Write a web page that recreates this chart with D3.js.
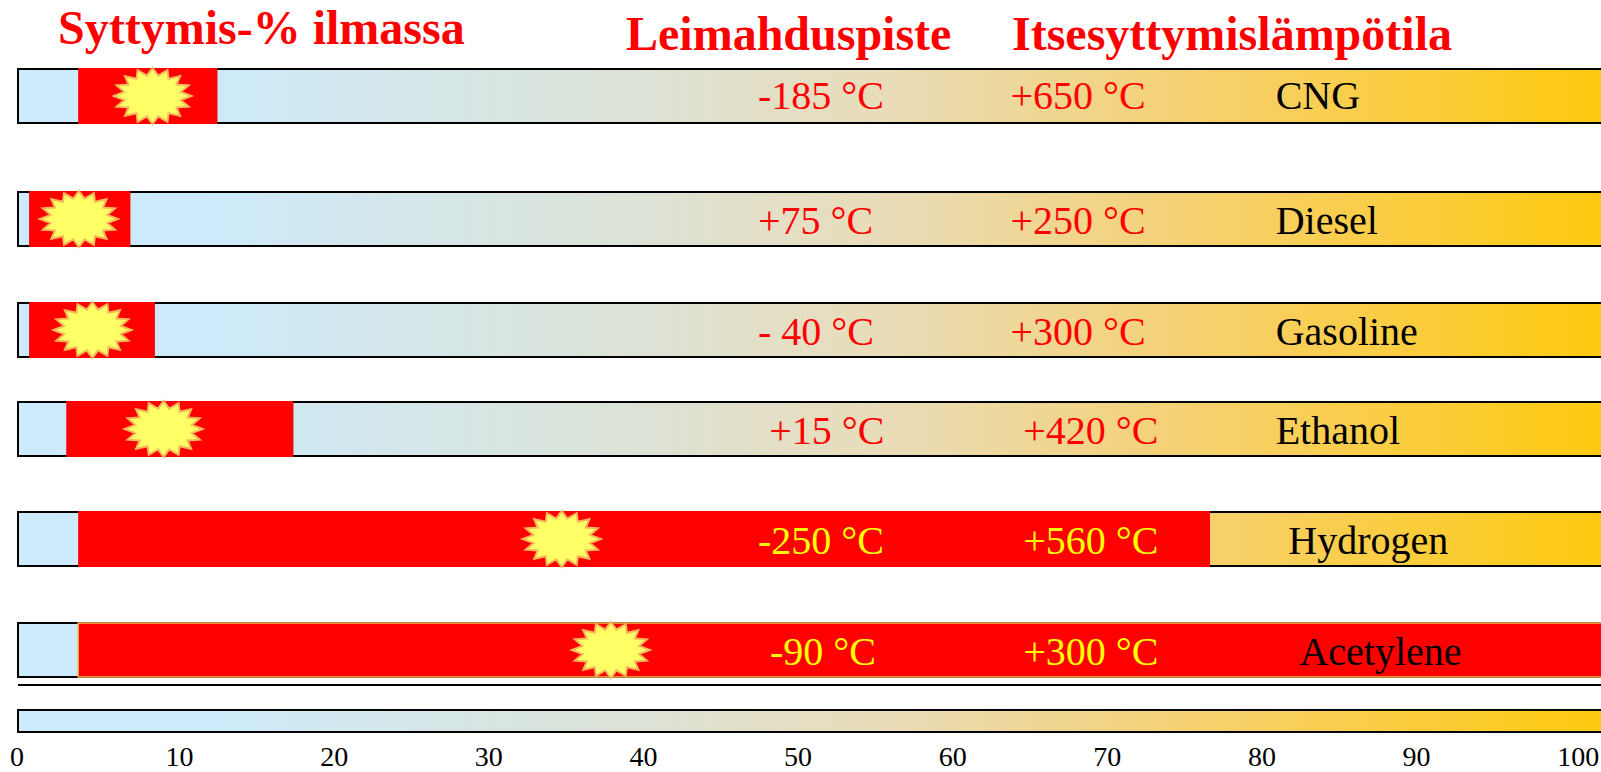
<!DOCTYPE html>
<html>
<head>
<meta charset="utf-8">
<script src="https://cdn.jsdelivr.net/npm/d3@7"></script>
<style>
  html, body { margin: 0; padding: 0; background: #fff; overflow: hidden; }
  text { font-family: "Liberation Serif", serif; }
</style>
</head>
<body>
<div id="chart-area"></div>
<script>
// Data
var fuels = ["CNG", "Diesel", "Gasoline", "Ethanol", "Hydrogen", "Acetylene"];
var rangeLow = [3.8, 0.7, 0.7, 3.05, 3.8, 3.8];
var rangeHigh = [12.6, 7.1, 8.65, 17.4, 75.3, 101];
var burstAt = [8.5, 3.85, 4.7, 9.2, 34.35, 37.45];
var flashPoint = ["-185 °C", "+75 °C", "- 40 °C", "+15 °C", "-250 °C", "-90 °C"];
var autoIgnition = ["+650 °C", "+250 °C", "+300 °C", "+420 °C", "+560 °C", "+300 °C"];
var axisTicks = [0, 10, 20, 30, 40, 50, 60, 70, 80, 90, 100];

// Labels were hand placed in the original, so they sit in scale units per row
var flashX = [46.75, 46.75, 46.75, 47.45, 46.75, 47.5];
var autoX = [62.7, 62.7, 62.7, 63.5, 63.5, 63.5];
var nameX = [79.45, 79.45, 79.45, 79.45, 80.25, 80.95];

var width = 1601, height = 772;

var svg = d3.select("#chart-area").append("svg")
    .attr("width", width)
    .attr("height", height)
    .style("display", "block");

var x = d3.scaleLinear().domain([0, 100]).range([18, 1601]);

var rowTop = d3.scaleOrdinal()
    .domain(fuels)
    .range([69, 192, 303, 402, 512, 623]);
var rowH = 54;

// text baseline inside a row, the first row sits a bit higher
var labelY = function(d) { return d === "CNG" ? 40 : 41.5; };

// Gradient
var grad = svg.append("defs").append("linearGradient")
    .attr("id", "barGrad")
    .attr("gradientUnits", "userSpaceOnUse")
    .attr("x1", x(0)).attr("x2", x(100))
    .attr("y1", 0).attr("y2", 0);
grad.append("stop").attr("offset", "0").attr("stop-color", "#cdebfe");
grad.append("stop").attr("offset", "0.12").attr("stop-color", "#cdeafa");
grad.append("stop").attr("offset", "0.4").attr("stop-color", "#dde2d5");
grad.append("stop").attr("offset", "0.55").attr("stop-color", "#e9dcb8");
grad.append("stop").attr("offset", "0.75").attr("stop-color", "#f6d06e");
grad.append("stop").attr("offset", "1").attr("stop-color", "#ffca10");

// Titles
var titles = svg.append("g")
    .attr("font-weight", "bold")
    .attr("font-size", "48px")
    .attr("fill", "#ff0000");
titles.append("text").attr("x", 58).attr("y", 44).text("Syttymis-% ilmassa");
titles.append("text").attr("x", 626).attr("y", 50).text("Leimahduspiste");
titles.append("text").attr("x", 1012).attr("y", 50).text("Itsesyttymislämpötila");

// Star shape for the burst
var spikes = 16;
var star = d3.lineRadial()
    .curve(d3.curveLinearClosed)
    .angle(function(d) { return d.a; })
    .radius(function(d) { return d.r; });
var starPoints = d3.range(spikes * 2).map(function(i) {
  return { a: i * Math.PI / spikes, r: i % 2 ? 0.74 : 1 };
});

// Rows
var rows = svg.selectAll("g.row")
  .data(fuels)
  .enter().append("g")
    .attr("class", "row")
    .attr("transform", function(d) { return "translate(0," + rowTop(d) + ")"; });

rows.append("rect")
    .attr("x", x(0))
    .attr("y", 0)
    .attr("width", x(100) - x(0) + 10)
    .attr("height", rowH)
    .attr("fill", "url(#barGrad)")
    .attr("stroke", "#000")
    .attr("stroke-width", 2);

rows.append("rect")
    .attr("x", function(d, i) { return x(rangeLow[i]); })
    .attr("y", function(d) { return d === "Acetylene" ? 0 : -1; })
    .attr("width", function(d, i) { return x(rangeHigh[i]) - x(rangeLow[i]); })
    .attr("height", function(d) { return d === "Acetylene" ? rowH : rowH + 2; })
    .attr("fill", "#ff0000")
    .attr("stroke", function(d) { return d === "Acetylene" ? "#f2b64e" : "none"; })
    .attr("stroke-width", 1.5);

rows.append("path")
    .attr("d", star(starPoints))
    .attr("transform", function(d, i) {
      return "translate(" + x(burstAt[i]) + "," + (rowH / 2) + ") scale(39,28)";
    })
    .attr("fill", "#ffff66")
    .attr("stroke", "#f5b85a")
    .attr("stroke-width", 2)
    .attr("vector-effect", "non-scaling-stroke");

rows.append("text")
    .attr("x", function(d, i) { return x(flashX[i]); })
    .attr("y", labelY)
    .attr("font-size", "40px")
    .attr("fill", function(d, i) { return i >= 4 ? "#ffff00" : "#ff0000"; })
    .text(function(d, i) { return flashPoint[i]; });

rows.append("text")
    .attr("x", function(d, i) { return x(autoX[i]); })
    .attr("y", labelY)
    .attr("font-size", "40px")
    .attr("fill", function(d, i) { return i >= 4 ? "#ffff00" : "#ff0000"; })
    .text(function(d, i) { return autoIgnition[i]; });

rows.append("text")
    .attr("x", function(d, i) { return x(nameX[i]); })
    .attr("y", labelY)
    .attr("font-size", "40px")
    .attr("fill", "#000")
    .text(function(d) { return d; });

// Divider and scale bar
svg.append("line")
    .attr("x1", x(0)).attr("x2", width)
    .attr("y1", 685).attr("y2", 685)
    .attr("stroke", "#000")
    .attr("stroke-width", 2);

svg.append("rect")
    .attr("x", x(0))
    .attr("y", 710)
    .attr("width", x(100) - x(0) + 10)
    .attr("height", 22)
    .attr("fill", "url(#barGrad)")
    .attr("stroke", "#000")
    .attr("stroke-width", 2);

// Axis labels only, no ticks or line in the original
var tickX = d3.scaleLinear().domain([10, 90]).range([179, 1416]);
var xAxis = d3.axisBottom(tickX)
    .tickValues(axisTicks)
    .tickSize(0)
    .tickPadding(0);
var axisG = svg.append("g")
    .attr("transform", "translate(0,746)")
    .call(xAxis);
axisG.select(".domain").remove();
axisG.selectAll("text")
    .attr("font-family", "Liberation Serif")
    .attr("font-size", "28px")
    .attr("fill", "#000")
    .attr("dx", function(d) { return d === 0 ? -8 : d === 100 ? 7 : 0; });
</script>
</body>
</html>
